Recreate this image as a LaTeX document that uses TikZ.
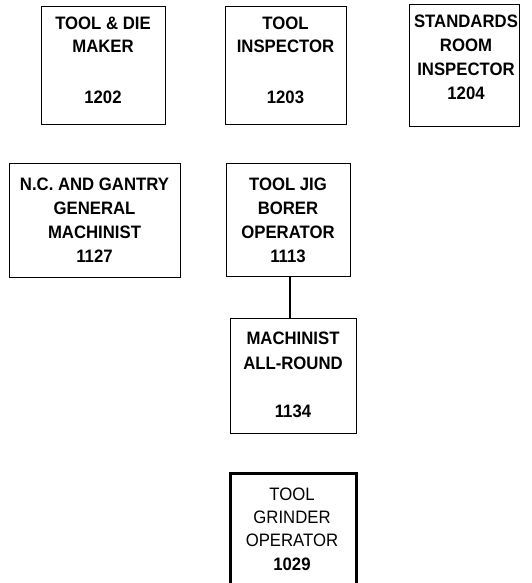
\documentclass[tikz,border=0pt]{standalone}
\usepackage{fontspec}
\setmainfont{Liberation Sans}[FakeStretch=0.93]
\begin{document}
\begin{tikzpicture}[x=1pt,y=-1pt,
  box/.style={draw=black, line width=1.3pt, anchor=north west, inner sep=0pt},
  heavybox/.style={draw=black, line width=2.8pt, anchor=north west, inner sep=0pt},
  lbl/.style={font=\fontsize{18}{20}\selectfont\bfseries, inner sep=0pt, anchor=base},
  lbllight/.style={font=\fontsize{18}{20}\selectfont, inner sep=0pt, anchor=base},
  link/.style={draw=black, line width=1.3pt}]
\useasboundingbox (0,0) rectangle (532,583);
\begin{scope}
\clip (0,0) rectangle (532,583);
% row 1
\node[box, minimum width=124pt, minimum height=118pt] (b1202) at (41,6) {};
\node[lbl] (t1202a) at (103,30) {TOOL \& DIE};
\node[lbl] (t1202b) at (103,53) {MAKER};
\node[lbl] (t1202c) at (103,104) {1202};

\node[box, minimum width=121pt, minimum height=118pt] (b1203) at (225,6) {};
\node[lbl] (t1203a) at (285.5,30) {TOOL};
\node[lbl] (t1203b) at (285.5,53) {INSPECTOR};
\node[lbl] (t1203c) at (285.5,104) {1203};

\node[box, minimum width=110pt, minimum height=122pt] (b1204) at (409,4) {};
\node[lbl] (t1204a) at (466,28) {STANDARDS};
\node[lbl] (t1204b) at (466,52) {ROOM};
\node[lbl] (t1204c) at (466,76) {INSPECTOR};
\node[lbl] (t1204d) at (466,100) {1204};

% row 2
\node[box, minimum width=171pt, minimum height=114pt] (b1127) at (9,163) {};
\node[lbl] (t1127a) at (94.5,190) {N.C. AND GANTRY};
\node[lbl] (t1127b) at (94.5,214) {GENERAL};
\node[lbl] (t1127c) at (94.5,238) {MACHINIST};
\node[lbl] (t1127d) at (94.5,262) {1127};

\node[box, minimum width=124pt, minimum height=113pt] (b1113) at (226,163) {};
\node[lbl] (t1113a) at (288,190) {TOOL JIG};
\node[lbl] (t1113b) at (288,214) {BORER};
\node[lbl] (t1113c) at (288,238) {OPERATOR};
\node[lbl] (t1113d) at (288,262) {1113};

% row 3
\node[box, minimum width=126pt, minimum height=115pt] (b1134) at (230,318) {};
\node[lbl] (t1134a) at (293,344) {MACHINIST};
\node[lbl] (t1134b) at (293,369) {ALL-ROUND};
\node[lbl] (t1134c) at (293,417) {1134};

% row 4
\node[heavybox, minimum width=126pt, minimum height=125pt] (b1029) at (229,472) {};
\node[lbllight] (t1029a) at (292,500) {TOOL};
\node[lbllight] (t1029b) at (292,523) {GRINDER};
\node[lbllight] (t1029c) at (292,546) {OPERATOR};
\node[lbl] (t1029d) at (292,570) {1029};

\coordinate (c1) at (290,276);
\coordinate (c2) at (290,318);
\draw[link] (b1113.south -| c1) -- (b1134.north -| c2);
\end{scope}
\end{tikzpicture}
\end{document}
